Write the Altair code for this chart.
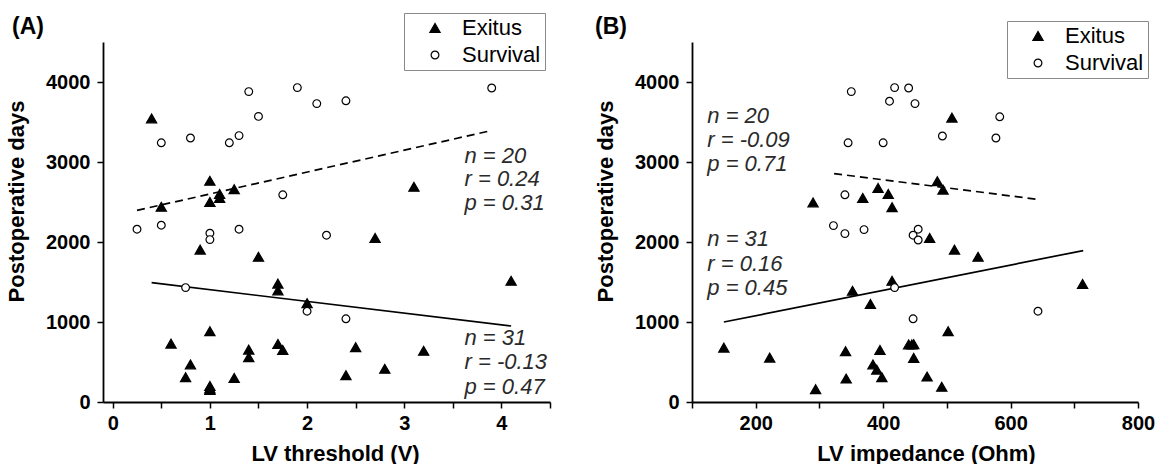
import altair as alt
import pandas as pd

FONT = "Liberation Sans"

# ---------------- Panel A: LV threshold (V) ----------------
a_exitus_x = [0.4, 0.5, 0.6, 0.75, 0.8, 0.9, 1.0, 1.0, 1.0, 1.0, 1.0, 1.0,
              1.1, 1.1, 1.25, 1.25, 1.4, 1.4, 1.5, 1.7, 1.7, 1.7, 1.75, 2.0,
              2.4, 2.5, 2.7, 2.8, 3.1, 3.2, 4.1]
a_exitus_y = [3545, 2440, 730, 310, 470, 1905, 2765, 2500, 885, 200, 170, 150,
              2600, 2550, 2660, 300, 655, 560, 1815, 1480, 1395, 725, 650, 1235,
              335, 685, 2050, 415, 2690, 640, 1515]
a_survival_x = [0.25, 0.5, 0.5, 0.75, 0.8, 1.0, 1.0, 1.2, 1.3, 1.3, 1.4, 1.5,
                1.75, 1.9, 2.0, 2.1, 2.2, 2.4, 2.4, 3.9]
a_survival_y = [2160, 3240, 2210, 1430, 3300, 2110, 2030, 3240, 3330, 2160, 3880, 3570,
                2590, 3930, 1135, 3730, 2085, 3765, 1040, 3925]
a_fit_survival_x = [0.25, 3.9]
a_fit_survival_y = [2395, 3394]
a_fit_exitus_x = [0.4, 4.1]
a_fit_exitus_y = [1492, 950]
a_note_x = [3.62, 3.62, 3.62, 3.62, 3.62, 3.62]
a_note_y = [3075, 2788, 2488, 800, 500, 190]
a_note_text = ["n = 20", "r = 0.24", "p = 0.31", "n = 31", "r = -0.13", "p = 0.47"]

# ---------------- Panel B: LV impedance (Ohm) ----------------
b_exitus_x = [150, 222, 290, 294, 341, 342, 352, 368, 380, 384, 390, 392, 395, 398,
              408, 414, 414, 440, 445, 448, 448, 469, 473, 485, 494, 492, 502, 508,
              512, 549, 713]
b_exitus_y = [680, 555, 2495, 160, 635, 293, 1390, 2550, 1225, 470, 405, 2675, 650, 310,
              2600, 2435, 1515, 720, 720, 723, 552, 318, 2050, 2760, 2655, 190, 885, 3555,
              1905, 1815, 1475]
b_survival_x = [350, 345, 340, 322, 340, 370, 400, 410, 418, 440, 450, 493, 447, 455,
                455, 418, 447, 577, 583, 643]
b_survival_y = [3880, 3240, 2590, 2205, 2105, 2155, 3240, 3760, 3930, 3925, 3730, 3325,
                2085, 2160, 2025, 1430, 1040, 3300, 3565, 1135]
b_fit_survival_x = [323, 639]
b_fit_survival_y = [2855, 2537]
b_fit_exitus_x = [150, 714]
b_fit_exitus_y = [1000, 1893]
b_note_x = [124, 124, 124, 124, 124, 124]
b_note_y = [3575, 3275, 2975, 2037, 1725, 1425]
b_note_text = ["n = 20", "r = -0.09", "p = 0.71", "n = 31", "r = 0.16", "p = 0.45"]

groups = ["Exitus", "Survival"]
y_ticks = [0, 500, 1000, 1500, 2000, 2500, 3000, 3500, 4000, 4500]


def panel(ex_x, ex_y, su_x, su_y, fsx, fsy, fex, fey, nx, ny, nt,
          xdomain, xticks, label_step, xtitle, xtitle_x, tag, tag_dx,
          legend_x, legend_y, width):
    pts = pd.DataFrame({
        "x": ex_x + su_x,
        "y": ex_y + su_y,
        "group": ["Exitus"] * len(ex_x) + ["Survival"] * len(su_x),
    })
    fit_s = pd.DataFrame({"x": fsx, "y": fsy})
    fit_e = pd.DataFrame({"x": fex, "y": fey})
    notes = pd.DataFrame({"x": nx, "y": ny, "t": nt})
    tagdf = pd.DataFrame({"t": [tag]})

    xscale = alt.Scale(domain=xdomain, nice=False, zero=False)
    yscale = alt.Scale(domain=[0, 4500], nice=False, zero=False)

    xaxis = alt.Axis(
        values=xticks,
        labelExpr=f"datum.value % {label_step} == 0 ? format(datum.value, 'd') : ''",
        title=xtitle, titleFont=FONT, titleFontSize=22, titleFontWeight="bold",
        titleColor="black", titleX=xtitle_x, titleY=58, titleBaseline="alphabetic",
        labelFont=FONT, labelFontSize=20, labelFontWeight="bold", labelColor="black",
        labelBaseline="middle", labelPadding=15, labelFlush=False, labelOverlap=False,
        domainColor="black", domainWidth=1.8, tickColor="black", tickWidth=1.5,
        tickSize=6, grid=False,
    )
    yaxis = alt.Axis(
        values=y_ticks,
        labelExpr="datum.value % 1000 == 0 ? format(datum.value, 'd') : ''",
        title="Postoperative days", titleFont=FONT, titleFontSize=22,
        titleFontWeight="bold", titleColor="black", titleX=-80, titleY=159,
        titleBaseline="alphabetic", titleAngle=270,
        labelFont=FONT, labelFontSize=20, labelFontWeight="bold", labelColor="black",
        labelPadding=7, labelFlush=False, labelOverlap=False,
        domainColor="black", domainWidth=1.8, tickColor="black", tickWidth=1.5,
        tickSize=6, grid=False,
    )

    legend = alt.Legend(
        title=None, orient="none", legendX=legend_x, legendY=legend_y,
        strokeColor="#8a8a8a", fillColor="white", padding=4, rowPadding=5,
        labelFont=FONT, labelFontSize=22, labelColor="black", labelLimit=300,
        symbolOffset=16, labelOffset=16, symbolStrokeColor="black",
        symbolStrokeWidth=1.2,
    )

    points = alt.Chart(pts).mark_point(filled=True, strokeWidth=1.2, opacity=1).encode(
        x=alt.X("x:Q", scale=xscale, axis=xaxis),
        y=alt.Y("y:Q", scale=yscale, axis=yaxis),
        shape=alt.Shape("group:N", scale=alt.Scale(domain=groups, range=["triangle-up", "circle"]), legend=legend),
        fill=alt.Fill("group:N", scale=alt.Scale(domain=groups, range=["black", "white"]), legend=legend),
        stroke=alt.Stroke("group:N", scale=alt.Scale(domain=groups, range=["black", "black"]), legend=legend),
        size=alt.Size("group:N", scale=alt.Scale(domain=groups, range=[105, 60]), legend=legend),
    )

    line_s = alt.Chart(fit_s).mark_line(color="black", strokeWidth=1.7, strokeDash=[8, 5]).encode(
        x="x:Q", y="y:Q")
    line_e = alt.Chart(fit_e).mark_line(color="black", strokeWidth=1.7).encode(
        x="x:Q", y="y:Q")

    text = alt.Chart(notes).mark_text(
        align="left", baseline="middle", font=FONT, fontSize=22, fontStyle="italic",
        color="#2a2a2a").encode(x="x:Q", y="y:Q", text="t:N")

    tag_mark = alt.Chart(tagdf).mark_text(
        align="left", baseline="middle", font=FONT, fontSize=23, fontWeight="bold",
        color="black").encode(x=alt.value(tag_dx), y=alt.value(-15), text="t:N")

    return alt.layer(line_s, line_e, points, text, tag_mark).properties(width=width, height=360)


pa = panel(a_exitus_x, a_exitus_y, a_survival_x, a_survival_y,
           a_fit_survival_x, a_fit_survival_y, a_fit_exitus_x, a_fit_exitus_y,
           a_note_x, a_note_y, a_note_text,
           [-0.1, 4.5], [0, 0.5, 1, 1.5, 2, 2.5, 3, 3.5, 4, 4.5], 1,
           "LV threshold (V)", 232, "(A)", -91, 301, -29, 447)
pb = panel(b_exitus_x, b_exitus_y, b_survival_x, b_survival_y,
           b_fit_survival_x, b_fit_survival_y, b_fit_exitus_x, b_fit_exitus_y,
           b_note_x, b_note_y, b_note_text,
           [100, 800], [100, 200, 300, 400, 500, 600, 700, 800], 200,
           "LV impedance (Ohm)", 234, "(B)", -97, 315, -21, 446)

chart = alt.hconcat(pa, pb, spacing=43).resolve_scale(
    x="independent", y="independent", shape="independent",
    fill="independent", stroke="independent", size="independent",
).properties(
    padding={"left": 5, "top": 12, "right": 0, "bottom": 0},
    background="white",
).configure_view(stroke=None)

chart.save("out.html", embed_options={"renderer": "svg", "actions": False})
